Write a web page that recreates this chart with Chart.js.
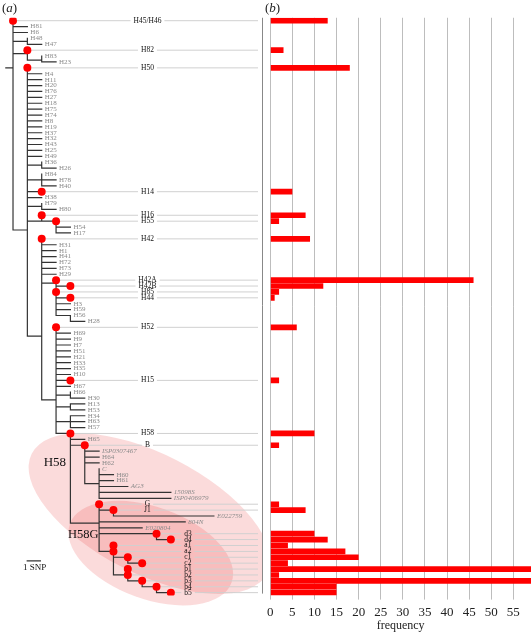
<!DOCTYPE html>
<html>
<head>
<meta charset="utf-8">
<script src="https://cdn.jsdelivr.net/npm/chart.js@4.4.1/dist/chart.umd.min.js"></script>
<style>
  html, body { margin: 0; padding: 0; background: #fff; }
  #wrap { position: relative; width: 531px; height: 633px; font-family: "Liberation Serif", serif; }
  #tree { position: absolute; left: 0; top: 0; }
  #bars { position: absolute; left: 262px; top: 0; }
  .panel { position: absolute; top: 0; font-size: 13px; line-height: 16px; color: #222; }
</style>
</head>
<body>
<div id="wrap">
  <canvas id="tree" width="262" height="633"></canvas>
  <canvas id="bars" width="269" height="633"></canvas>
  <div class="panel" style="left:2px">(<i>a</i>)</div>
  <div class="panel" style="left:265px">(<i>b</i>)</div>
</div>
<script>
// one row per haplotype, top to bottom
const rowLabels = ['H45/H46','H81','H6','H48','H47','H82','H83','H23','H50','H4',
  'H11','H20','H76','H27','H18','H75','H74','H8','H19','H37',
  'H32','H43','H25','H49','H36','H26','H84','H78','H40','H14',
  'H38','H79','H80','H16','H55','H54','H17','H42','H31','H1',
  'H41','H72','H73','H29','H42A','H42B','H85','H44','H3','H59',
  'H56','H28','H52','H69','H9','H7','H51','H21','H33','H35',
  'H10','H15','H67','H66','H30','H13','H53','H34','H63','H57',
  'H58','H65','B','ISP0307467','H64','H62','C','H60','H61','AG3',
  '15098S','ISP0406979','G','J1','E022759','804N','E020804','d3','d4','a1',
  'a2','c1','c2','b1','b2','b3','b4','b5'];

// frequency of each haplotype (0 = not sampled)
const freq = [13,0,0,0,0,3,0,0,18,0,
  0,0,0,0,0,0,0,0,0,0,
  0,0,0,0,0,0,0,0,0,5,
  0,0,0,8,2,0,0,9,0,0,
  0,0,0,0,46,12,2,1,0,0,
  0,0,6,0,0,0,0,0,0,0,
  0,2,0,0,0,0,0,0,0,0,
  10,0,2,0,0,0,0,0,0,0,
  0,0,2,8,0,0,0,10,13,4,
  17,20,4,62,2,62,15,15];

// tree: SNP distance from the root where each row's branch starts and ends
const baseSnp = [0,0,0,1,1,1,2,2,1,1,
  1,1,1,1,1,1,1,1,1,1,
  1,1,1,1,2,2,2,2,2,1,
  1,2,2,2,2,3,3,2,2,2,
  2,2,2,2,3,3,3,3,3,3,
  3,4,3,3,3,3,3,3,3,3,
  3,3,3,4,4,4,4,4,4,4,
  3,4,4,5,5,5,6,6,6,6,
  6,6,6,6,7,6,6,6,10,7,
  6,7,8,8,7,8,9,10];
const tipSnp = [0,1,1,1,2,1,2,3,1,2,
  2,2,2,2,2,2,2,2,2,2,
  2,2,2,2,2,3,2,3,3,2,
  2,2,3,2,3,4,4,2,3,3,
  3,3,3,3,3,4,3,4,4,4,
  4,5,3,4,4,4,4,4,4,4,
  4,4,4,4,5,5,5,5,5,5,
  4,5,5,6,6,6,6,7,7,8,
  11,11,6,7,14,12,9,10,11,7,
  7,8,9,8,8,9,10,11];

// vertical connectors [snp, fromRow, toRow] and extra horizontal links [fromSnp, toSnp, row]
const stems = [[0,0,35.5],[1,3,4],[1,4.8,6.7],[2,6,7],[1,8,53.5],[2,24,25],[2,26,28],
  [2,31,32],[2,33,34],[3,34,36],[2,37,64.3],[3,44,50],[4,50,51],[3,52,70],[4,63,64],
  [4,65,66],[4,67,69],[4,70,85.2],[5,72,78.5],[6,76,81],[6,82,90],[7,83,84],[10,87,88],
  [7,89,94],[8,91,92],[8,93,95],[9,95,96],[10,96,97]];
const links = [[-0.5,0,8],[0,1,3.5],[0,1,5.6],[1,2,6.7],[1,2,24.5],[1,2,27],[1,2,31.5],
  [1,2,34],[0,1,35.5],[1,2,53.5],[2,3,44.5],[2,3,64.3],[3,4,63.5],[3,4,65.5],[3,4,68],
  [5,6,78.5],[4,6,85.2]];

const xTicks = [0,5,10,15,20,25,30,35,40,45,50,55];

const FONT = '"Liberation Serif", "Times New Roman", serif';

const branchPts = [];
function seg(x1, y1, x2, y2) {
  branchPts.push({x: x1, y: y1}, {x: x2, y: y2}, {x: NaN, y: NaN});
}
rowLabels.forEach((_, r) => { if (tipSnp[r] > baseSnp[r]) seg(baseSnp[r], r, tipSnp[r], r); });
links.forEach(([a, b, r]) => seg(a, r, b, r));
stems.forEach(([s, r1, r2]) => seg(s, r1, s, r2));

const dotPts = [];
rowLabels.forEach((_, r) => { if (freq[r] > 0) dotPts.push({x: tipSnp[r], y: r}); });

const treeDecor = {
  id: 'treeDecor',
  beforeDatasetsDraw(chart) {
    const {ctx, chartArea, scales: {x, y}} = chart;
    ctx.save();
    // H58 and H58G clades
    ctx.fillStyle = 'rgba(230, 40, 40, 0.17)';
    [[9.5, 83.6, 132, 60, 27], [9.6, 90.3, 86, 46, 20]].forEach(([sx, sr, rx, ry, deg]) => {
      ctx.beginPath();
      ctx.ellipse(x.getPixelForValue(sx), y.getPixelForValue(sr), rx, ry, deg * Math.PI / 180, 0, Math.PI * 2);
      ctx.fill();
    });
    // guide lines to the bars, with the haplotype name
    ctx.font = '7.5px ' + FONT;
    ctx.textBaseline = 'middle';
    ctx.strokeStyle = '#d0d0d0';
    ctx.lineWidth = 1;
    rowLabels.forEach((name, r) => {
      if (!(freq[r] > 0)) return;
      const py = y.getPixelForValue(r);
      const w = ctx.measureText(name).width;
      const lx = r >= 87 ? x.getPixelForValue(11.94) : x.getPixelForValue(9.37) - w / 2;
      const dx = x.getPixelForValue(tipSnp[r]) + 4;
      ctx.beginPath();
      ctx.moveTo(dx, py); ctx.lineTo(lx - 3, py);
      ctx.moveTo(lx + w + 3, py); ctx.lineTo(chartArea.right, py);
      ctx.stroke();
      ctx.fillStyle = '#111';
      ctx.fillText(name, lx, py);
    });
    ctx.restore();
  },
  afterDatasetsDraw(chart) {
    const {ctx, scales: {x, y}} = chart;
    ctx.save();
    ctx.textBaseline = 'middle';
    ctx.fillStyle = '#8a8a8a';
    rowLabels.forEach((name, r) => {
      if (freq[r] > 0) return;
      ctx.font = (/^H\d/.test(name) ? '' : 'italic ') + '7px ' + FONT;
      ctx.fillText(name, x.getPixelForValue(tipSnp[r]) + 3, y.getPixelForValue(r));
    });
    ctx.fillStyle = '#111';
    ctx.textAlign = 'center';
    ctx.font = '13px ' + FONT;
    ctx.fillText('H58', x.getPixelForValue(2.92), y.getPixelForValue(75));
    ctx.font = '12.5px ' + FONT;
    ctx.fillText('H58G', x.getPixelForValue(4.9), y.getPixelForValue(87.2));
    ctx.font = '9px ' + FONT;
    ctx.fillText('1 SNP', x.getPixelForValue(1.5), y.getPixelForValue(92.7));
    ctx.restore();
  }
};

new Chart(document.getElementById('tree'), {
  type: 'scatter',
  data: {
    datasets: [
      { label: 'nodes', data: dotPts, pointRadius: 4, pointBackgroundColor: '#f00', pointBorderWidth: 0, order: 0 },
      { label: 'branches', data: branchPts, showLine: true, spanGaps: false, borderColor: '#333',
        borderWidth: 1.2, borderCapStyle: 'square', pointRadius: 0, order: 2 },
      { label: 'scale', data: [{x: 0.95, y: 91.6}, {x: 1.95, y: 91.6}], showLine: true,
        borderColor: '#333', borderWidth: 1.2, pointRadius: 0, order: 1 }
    ]
  },
  options: {
    responsive: false,
    animation: false,
    layout: { padding: { top: 17.75, bottom: 37.4, left: 0, right: 0 } },
    plugins: { legend: { display: false }, tooltip: { enabled: false } },
    scales: {
      x: { type: 'linear', display: false, min: -0.628, max: 17.074 },
      y: { type: 'linear', display: false, reverse: true, min: -0.5, max: 97.5 }
    }
  },
  plugins: [treeDecor]
});

const panelLine = {
  id: 'panelLine',
  afterDraw(chart) {
    const {ctx, chartArea} = chart;
    ctx.save();
    ctx.strokeStyle = '#888';
    ctx.lineWidth = 1;
    ctx.beginPath();
    ctx.moveTo(0.5, chartArea.top);
    ctx.lineTo(0.5, chartArea.bottom - 2);
    ctx.stroke();
    ctx.restore();
  }
};

new Chart(document.getElementById('bars'), {
  type: 'bar',
  data: {
    labels: rowLabels,
    datasets: [{
      label: 'frequency',
      data: freq,
      backgroundColor: '#ff0000',
      borderWidth: 0,
      barPercentage: 1,
      categoryPercentage: 0.96
    }]
  },
  options: {
    indexAxis: 'y',
    responsive: false,
    animation: false,
    layout: { padding: { top: 17.75, left: 8, right: 0, bottom: 0 } },
    plugins: { legend: { display: false }, tooltip: { enabled: false } },
    scales: {
      y: { display: false },
      x: {
        min: 0, max: 59,
        afterBuildTicks: (s) => { s.ticks = xTicks.map(v => ({value: v})); },
        ticks: { font: { family: FONT, size: 13 }, color: '#222', padding: 5 },
        grid: { color: '#bdbdbd', lineWidth: 1, tickLength: 4 },
        border: { display: false },
        title: { display: true, text: 'frequency', font: { family: FONT, size: 12 }, color: '#222', padding: 0 },
        afterFit: (s) => { s.height = 37.4; }
      }
    }
  },
  plugins: [panelLine]
});
</script>
</body>
</html>
